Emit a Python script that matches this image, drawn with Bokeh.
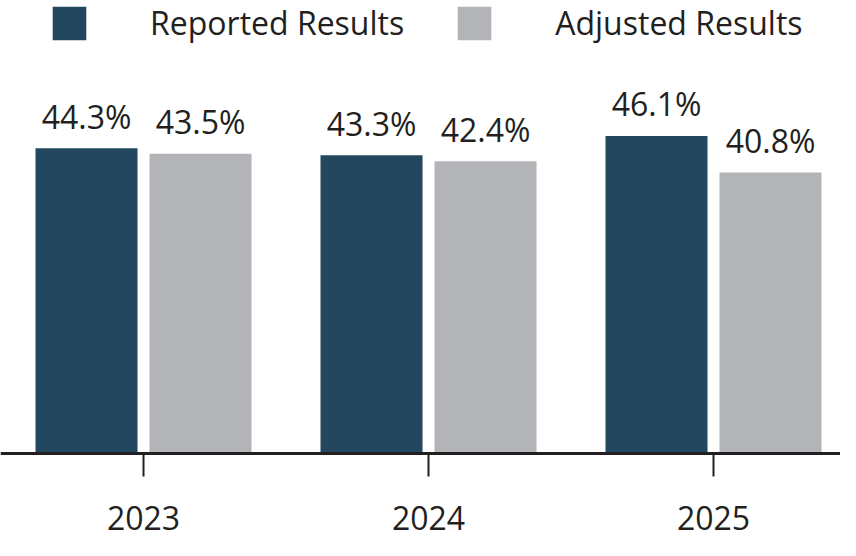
from bokeh.plotting import figure
from bokeh.models import Range1d, ColumnDataSource, Legend, LegendItem, Span
from bokeh.core.properties import value
from bokeh.embed import file_html
from bokeh.resources import INLINE
import numpy as np

years = ["2023", "2024", "2025"]
reported = [44.3, 43.3, 46.1]
adjusted = [43.5, 42.4, 40.8]
series_names = ["Reported Results", "Adjusted Results"]
colors = ["#23475F", "#B2B4B7"]

FONT = "Open Sans"
TEXT_COLOR = "#231F20"

idx = np.arange(len(years))
offset = 0.2
bar_w = 0.358

p = figure(width=840, height=540, output_backend="svg", toolbar_location=None,
           x_range=Range1d(-0.5018, 2.4456), y_range=Range1d(-12.63, 65.75),
           x_axis_location=None, y_axis_location=None,
           min_border_left=0, min_border_right=0, min_border_top=0, min_border_bottom=0)
p.outline_line_color = None
p.grid.visible = False

src_r = ColumnDataSource(dict(x=idx - offset, top=reported, lab=[f"{v:.1f}%" for v in reported]))
src_a = ColumnDataSource(dict(x=idx + offset, top=adjusted, lab=[f"{v:.1f}%" for v in adjusted]))

r1 = p.vbar(x="x", top="top", bottom=0, width=bar_w, source=src_r, fill_color=colors[0], line_color=None)
r2 = p.vbar(x="x", top="top", bottom=0, width=bar_w, source=src_a, fill_color=colors[1], line_color=None)

for src in (src_r, src_a):
    p.text(x="x", y="top", text="lab", source=src, text_align="center", text_baseline="middle",
           y_offset=-32, text_font=value(FONT), text_font_size="32px", text_color=TEXT_COLOR)

# category axis: baseline, ticks and year labels
p.add_layout(Span(location=0, dimension="width", line_width=3, line_color=TEXT_COLOR))
src_y = ColumnDataSource(dict(x=idx, y=np.zeros(len(years)), year=years))
p.ray(x="x", y="y", length=23, length_units="screen", angle=-90, angle_units="deg",
      source=src_y, line_width=2, line_color=TEXT_COLOR)
p.text(x="x", y="y", text="year", source=src_y, text_align="center", text_baseline="middle",
       y_offset=65, text_font=value(FONT), text_font_size="32px", text_color=TEXT_COLOR)

legend = Legend(items=[LegendItem(label=series_names[0], renderers=[r1]),
                       LegendItem(label=series_names[1], renderers=[r2])],
                orientation="horizontal", location=(48, 496))
legend.glyph_width = 42
legend.glyph_height = 42
legend.label_standoff = 60
legend.spacing = 49
legend.padding = 0
legend.margin = 0
legend.border_line_color = None
legend.background_fill_alpha = 0
legend.label_text_font = FONT
legend.label_text_font_size = "32px"
legend.label_text_color = TEXT_COLOR
p.add_layout(legend, "center")

open("out.html", "w").write(file_html(p, INLINE))
